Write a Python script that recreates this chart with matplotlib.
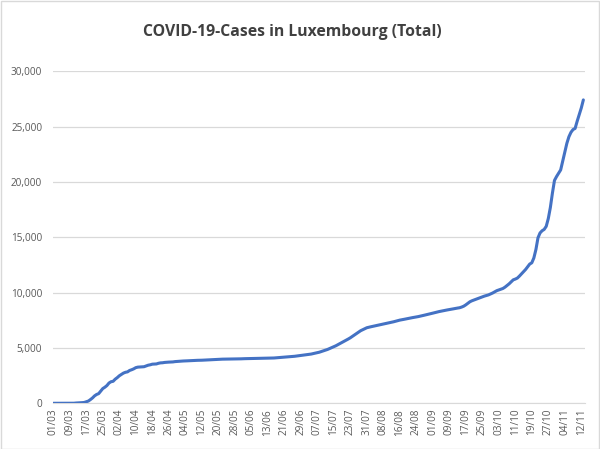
import pandas as pd
import matplotlib.pyplot as plt
from matplotlib.patches import Rectangle

# Gesamtzahl der Fälle pro Tag (geschätzt aus der Grafik)
maerz = [1, 1, 1, 1, 2, 3, 4, 5, 5, 7, 7, 26, 34, 51, 59, 77, 140, 203, 335, 484,
         670, 798, 875, 1099, 1333, 1453, 1605, 1831, 1950, 1988, 2178]
april = [2319, 2487, 2612, 2729, 2804, 2843, 2970, 3034, 3115, 3223, 3270, 3281, 3292,
         3307, 3373, 3444, 3480, 3537, 3550, 3558, 3618, 3654, 3665, 3695, 3711, 3723,
         3729, 3741, 3769, 3784]
mai = [3802, 3812, 3824, 3828, 3840, 3851, 3859, 3871, 3877, 3886, 3888, 3894, 3904,
       3915, 3923, 3930, 3945, 3947, 3958, 3971, 3980, 3990, 3993, 3995, 4001, 4008,
       4012, 4016, 4018, 4019, 4020]
juni = [4032, 4035, 4039, 4040, 4040, 4044, 4050, 4052, 4056, 4061, 4065, 4072, 4077,
        4085, 4090, 4096, 4111, 4120, 4133, 4153, 4165, 4180, 4200, 4215, 4230, 4250,
        4275, 4300, 4330, 4360]
juli = [4380, 4400, 4420, 4450, 4490, 4530, 4570, 4620, 4680, 4740, 4800, 4870, 4950,
        5020, 5110, 5200, 5300, 5400, 5500, 5600, 5700, 5810, 5920, 6050, 6180, 6320,
        6450, 6560, 6650, 6740, 6830]
august = [6880, 6920, 6960, 7000, 7040, 7080, 7120, 7160, 7200, 7240, 7280, 7320, 7370,
          7420, 7470, 7520, 7550, 7590, 7630, 7670, 7710, 7740, 7770, 7800, 7840, 7880,
          7920, 7970, 8020, 8060, 8100]
september = [8150, 8200, 8240, 8290, 8330, 8370, 8410, 8440, 8470, 8500, 8540, 8580,
             8610, 8640, 8700, 8780, 8900, 9040, 9180, 9270, 9340, 9410, 9490, 9560,
             9630, 9690, 9740, 9800, 9880, 9970]
oktober = [10070, 10180, 10250, 10310, 10380, 10500, 10650, 10800, 10980, 11160, 11230,
           11320, 11500, 11700, 11900, 12100, 12350, 12590, 12700, 13140, 13900, 14960,
           15400, 15600, 15720, 16000, 16700, 17700, 19000, 20150, 20500]
november = [20800, 21100, 21900, 22700, 23500, 24100, 24500, 24750, 24850, 25500, 26100,
            26700, 27430]

faelle = maerz + april + mai + juni + juli + august + september + oktober + november
datum = pd.date_range("2020-03-01", periods=len(faelle), freq="D")
df = pd.DataFrame({"datum": datum, "faelle": faelle})

plt.rcParams['font.family'] = ['Open Sans', 'DejaVu Sans']
grau = "#595959"

fig = plt.figure(figsize=(6, 4.49), dpi=100)
ax = fig.add_axes([53.3 / 600, 0.1018, (585 - 53.3) / 600, 0.8408 - 0.1018])

ax.plot(range(len(df)), df["faelle"], color="#4472C4", linewidth=2.2,
        solid_capstyle="round", solid_joinstyle="round", zorder=3)

ax.set_xlim(0, 257.8)
ax.set_ylim(0, 30000)
ax.set_yticks(range(0, 30001, 5000))
ax.set_yticklabels([f"{v:,}" for v in range(0, 30001, 5000)])
pos = list(range(0, len(df), 8))
ax.set_xticks(pos)
ax.set_xticklabels([df["datum"][i].strftime("%d/%m") for i in pos], rotation=90)

ax.grid(True, axis="y", color="#D9D9D9", linewidth=0.9)
ax.set_axisbelow(True)
for s in ["top", "right", "left"]:
    ax.spines[s].set_visible(False)
ax.spines["bottom"].set_color("#D9D9D9")
ax.tick_params(axis="y", length=0, pad=8, labelsize=7.2, labelcolor=grau)
ax.tick_params(axis="x", length=0, pad=4, labelsize=7.2, labelcolor=grau)

fig.text(0.487, 0.928, "COVID-19-Cases in Luxembourg (Total)", ha="center", va="center",
         fontsize=11.3, fontweight="bold", color="#404040")

fig.patches.append(Rectangle((0.001, 0.001), 0.997, 0.997, transform=fig.transFigure,
                             fill=False, edgecolor="#D9D9D9", linewidth=1))

fig.savefig("out.png", dpi=100)
